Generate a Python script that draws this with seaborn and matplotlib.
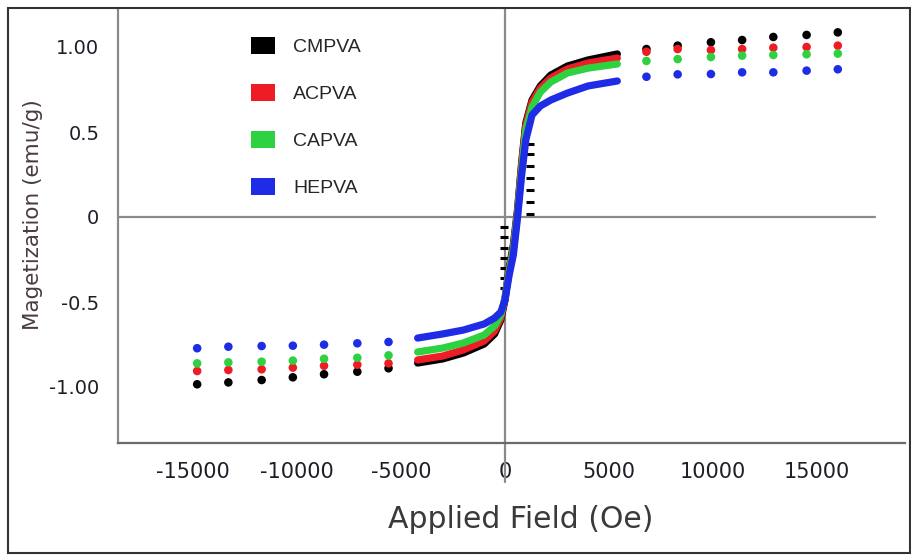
import numpy as np
import pandas as pd
import matplotlib
matplotlib.use("Agg")
import matplotlib.pyplot as plt
from matplotlib.patches import Patch, Rectangle
import seaborn as sns

# ---------------- data ----------------
samples = ["CMPVA", "ACPVA", "CAPVA", "HEPVA"]
colors = ["#000000", "#ee1c24", "#2ed13f", "#1f2ce6"]

field_sparse_neg = [-14800, -13300, -11700, -10200, -8700, -7100, -5600]
field_sparse_pos = [6800, 8300, 9900, 11400, 12900, 14500, 16000]
field_dense = [-4200, -3000, -2000, -1000, -500, -200, 0, 200, 400, 600,
               800, 1000, 1300, 1700, 2200, 3000, 4000, 5400]

cmpva_neg = [-0.984, -0.973, -0.959, -0.943, -0.925, -0.910, -0.890]
cmpva_dense = [-0.859, -0.835, -0.800, -0.747, -0.688, -0.606, -0.488, -0.300, -0.165,
               0.041, 0.318, 0.553, 0.688, 0.771, 0.835, 0.888, 0.924, 0.959]
cmpva_pos = [0.988, 1.008, 1.028, 1.041, 1.059, 1.071, 1.086]

acpva_neg = [-0.906, -0.900, -0.896, -0.886, -0.875, -0.869, -0.861]
acpva_dense = [-0.841, -0.818, -0.782, -0.729, -0.671, -0.594, -0.476, -0.312, -0.182,
               0.029, 0.306, 0.541, 0.676, 0.759, 0.818, 0.871, 0.906, 0.935]
acpva_pos = [0.972, 0.988, 0.982, 0.988, 0.996, 1.000, 1.008]

capva_neg = [-0.861, -0.855, -0.851, -0.845, -0.834, -0.828, -0.814]
capva_dense = [-0.794, -0.771, -0.741, -0.694, -0.641, -0.576, -0.476, -0.324, -0.194,
               0.012, 0.276, 0.512, 0.647, 0.735, 0.794, 0.847, 0.876, 0.900]
capva_pos = [0.918, 0.929, 0.941, 0.949, 0.953, 0.957, 0.961]

hepva_neg = [-0.772, -0.763, -0.759, -0.757, -0.751, -0.743, -0.735]
hepva_dense = [-0.712, -0.688, -0.665, -0.629, -0.594, -0.559, -0.488, -0.341, -0.224,
               -0.006, 0.247, 0.453, 0.600, 0.653, 0.688, 0.729, 0.771, 0.800]
hepva_pos = [0.825, 0.839, 0.841, 0.851, 0.851, 0.861, 0.869]

# second (return) branch of CMPVA in the steep region
cmpva_branch_field = [-60, -60, -60, -60, -60, -60, -60, 1200, 1200, 1200, 1200, 1200, 1200, 1200]
cmpva_branch_mag = [-0.06, -0.12, -0.18, -0.24, -0.30, -0.36, -0.42,
                    0.02, 0.09, 0.16, 0.23, 0.30, 0.37, 0.43]

x_ticks = [-15000, -10000, -5000, 0, 5000, 10000, 15000]
x_tick_labels = ["-15000", "-10000", "-5000", "0", "5000", "10000", "15000"]
y_ticks = [1.0, 0.5, 0.0, -0.5, -1.0]
y_tick_labels = ["1.00", "0.5", "0", "-0.5", "-1.00"]

# ---------------- tables ----------------
neg_vals = [cmpva_neg, acpva_neg, capva_neg, hepva_neg]
pos_vals = [cmpva_pos, acpva_pos, capva_pos, hepva_pos]
dense_vals = [cmpva_dense, acpva_dense, capva_dense, hepva_dense]

sparse_rows = []
dense_rows = []
for s, nv, pv, dv in zip(samples, neg_vals, pos_vals, dense_vals):
    for f, m in zip(field_sparse_neg, nv):
        sparse_rows.append((s, f, m))
    for f, m in zip(field_sparse_pos, pv):
        sparse_rows.append((s, f, m))
    for f, m in zip(field_dense, dv):
        dense_rows.append((s, f, m))
sparse_df = pd.DataFrame(sparse_rows, columns=["sample", "field", "mag"])
dense_df = pd.DataFrame(dense_rows, columns=["sample", "field", "mag"])
branch_df = pd.DataFrame({"field": cmpva_branch_field, "mag": cmpva_branch_mag})

palette = dict(zip(samples, colors))

# ---------------- figure ----------------
sns.set_style("white")
plt.rcParams["font.family"] = ["DejaVu Sans"]

fig = plt.figure(figsize=(9.12, 5.55), dpi=100)
ax_left = 118 / 912
ax_bottom = 1 - 443 / 555
ax_w = (905 - 118) / 912
ax_h = (443 - 9) / 555
ax = fig.add_axes([ax_left, ax_bottom, ax_w, ax_h])

x0_px, xs = 505, 0.0208
y0_px, ys = 217, 170.0
ax.set_xlim((118 - x0_px) / xs, (905 - x0_px) / xs)
ax.set_ylim((y0_px - 443) / ys, (y0_px - 9) / ys)

# zero lines
ax.axhline(0, xmin=0, xmax=(875 - 118) / 787, color="#8a8a8a", lw=1.6, zorder=1)
ax.axvline(0, ymin=(443 - 482) / 434, ymax=1.0, color="#8a8a8a", lw=1.6,
           zorder=1, clip_on=False)

hue_order = samples  # blue drawn last (on top)
sns.scatterplot(data=branch_df, x="field", y="mag", color="#000000", s=40,
                marker="_", linewidth=2.2, ax=ax, zorder=2)
sns.lineplot(data=dense_df, x="field", y="mag", hue="sample", hue_order=hue_order,
             palette=palette, sort=False, estimator=None, linewidth=5.2,
             solid_capstyle="round", legend=False, ax=ax, zorder=3)
sns.scatterplot(data=sparse_df, x="field", y="mag", hue="sample", hue_order=hue_order,
                palette=palette, s=38, marker="o", edgecolor="none", linewidth=0,
                legend=False, ax=ax, zorder=3)

# spines
for side in ["top", "right"]:
    ax.spines[side].set_visible(False)
ax.spines["left"].set_color("#8a8a8a")
ax.spines["left"].set_linewidth(1.6)
ax.spines["bottom"].set_color("#6a6a6a")
ax.spines["bottom"].set_linewidth(1.6)

ax.set_xticks(x_ticks)
ax.set_xticklabels(x_tick_labels)
ax.set_yticks(y_ticks)
ax.set_yticklabels(y_tick_labels)
ax.tick_params(axis="x", direction="out", length=12, width=1.3, color="#7a7a7a",
               pad=2, labelsize=15, labelcolor="#1e1e28")
ax.tick_params(axis="y", direction="out", length=8.5, width=1.6, color="#555555",
               pad=5, labelsize=14, labelcolor="#1e1e28")

ax.set_xlabel("Applied Field (Oe)", fontsize=21.5, color="#3a3a3a")
ax.xaxis.set_label_coords((521 - 118) / 787, (443 - 505) / 434)
ax.set_ylabel("Magetization (emu/g)", fontsize=15.5, color="#4a3c3c")
ax.yaxis.set_label_coords((43 - 118) / 787, (443 - 215) / 434)

# legend
handles = [Patch(facecolor=c, edgecolor="none", label=s) for s, c in zip(samples, colors)]
leg = ax.legend(handles=handles, loc="upper left", bbox_to_anchor=(0.147, 0.975),
                frameon=False, handlelength=1.2, handleheight=0.95, handletextpad=0.95,
                labelspacing=1.43, prop={"family": "Liberation Sans", "size": 14})

# outer frame
fig.patches.append(Rectangle((8 / 912, 2 / 555), (910 - 8) / 912, (547 - 2) / 555,
                             transform=fig.transFigure, fill=False,
                             edgecolor="#333333", linewidth=1.5))

fig.savefig("out.png", dpi=100)
